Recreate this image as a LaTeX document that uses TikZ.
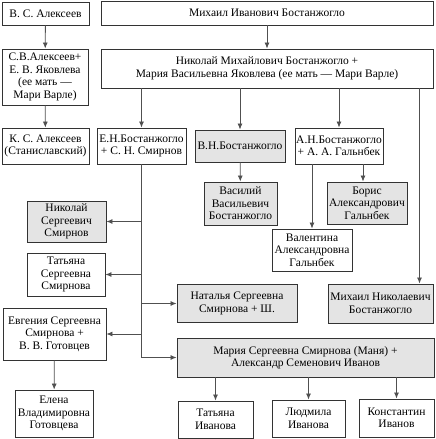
\documentclass[tikz,border=0pt]{standalone}
\usepackage{fontspec}
\setmainfont{Liberation Serif}
\usetikzlibrary{arrows.meta}
\usetikzlibrary{positioning}

\definecolor{boxgrey}{HTML}{E4E4E4}
\definecolor{linegrey}{HTML}{505050}

\tikzset{
  person/.style={draw=black!80, line width=0.9pt, fill=white, align=center,
    inner sep=0.5pt, font=\fontsize{11.5}{12.5}\selectfont},
  grey/.style={person, fill=boxgrey},
  conn/.style={draw=linegrey, line width=0.8pt, -{Latex[length=6pt,width=5pt]}}
}

\begin{document}
\begin{tikzpicture}[x=1pt,y=-1pt]
\useasboundingbox (0,0) rectangle (436,439);

    % Alekseev line
    \node[person, minimum width=87, minimum height=23] (vsa) at (45.5,13.5) {В. С. Алексеев};
    \node[person, minimum width=86, minimum height=56] (sva) at (45,77) {С.В.Алексеев+\\Е. В. Яковлева\\(ее мать ---\\Мари Варле)};
    \node[person, minimum width=87, minimum height=36] (ksa) at (45.5,146) {К. С. Алексеев\\(Станиславский)};

    % Bostanzhoglo line
    \node[person, minimum width=332, minimum height=24] (mib) at (267,13) {Михаил Иванович Бостанжогло};
    \node[person, minimum width=332, minimum height=39] (nmb) at (267,68.5) {Николай Михайлович Бостанжогло +\\Мария Васильевна Яковлева (ее мать --- Мари Варле)};

    % children of Nikolai Mikhailovich
    \node[person, minimum width=89, minimum height=36] (enb) at (141.5,146) {Е.Н.Бостанжогло\\+ С. Н. Смирнов};
    \node[grey, minimum width=90, minimum height=32] (vnb) at (240,146) {В.Н.Бостанжогло};
    \node[person, minimum width=88, minimum height=36] (anb) at (339,146) {А.Н.Бостанжогло\\+ А. А. Гальнбек};
    \node[grey, minimum width=105, minimum height=39] (mnb) at (380.5,303.5) {Михаил Николаевич\\Бостанжогло};

    % grandchildren
    \node[grey, minimum width=73, minimum height=43] (vvb) at (240.5,203.5) {Василий\\Васильевич\\Бостанжогло};
    \node[grey, minimum width=80, minimum height=42] (bag) at (367,203) {Борис\\Александрович\\Гальнбек};
    \node[person, minimum width=80, minimum height=42] (vag) at (312,250) {Валентина\\Александровна\\Гальнбек};

    % Smirnov children
    \node[grey, minimum width=79, minimum height=41] (nss) at (66.5,221.5) {Николай\\Сергеевич\\Смирнов};
    \node[person, minimum width=78, minimum height=43] (tss) at (66,274.5) {Татьяна\\Сергеевна\\Смирнова};
    \node[grey, minimum width=120, minimum height=38] (nsh) at (237,303.5) {Наталья Сергеевна\\Смирнова + Ш.};
    \node[person, minimum width=103, minimum height=52] (ess) at (54.5,334) {Евгения Сергеевна\\Смирнова +\\В. В. Готовцев};
    \node[grey, minimum width=257, minimum height=39] (msi) at (305.5,357.5) {Мария Сергеевна Смирнова (Маня) +\\Александр Семенович Иванов};

    % last row
    \node[person, minimum width=78, minimum height=47] (evg) at (54,413.5) {Елена\\Владимировна\\Готовцева};
    \node[person, minimum width=75, minimum height=37] (tiv) at (215.5,419.5) {Татьяна\\Иванова};
    \node[person, minimum width=73, minimum height=37] (lid) at (308.5,418.5) {Людмила\\Иванова};
    \node[person, minimum width=75, minimum height=38] (kiv) at (396.5,418) {Константин\\Иванов};

    % connectors
    \draw[conn] (vsa) -- (sva);
    \draw[conn] (sva) -- (ksa);
    \draw[conn] (mib) -- (nmb);
    \draw[conn] (nmb.south -| enb) -- (enb.north);
    \draw[conn] (nmb.south -| vnb) -- (vnb.north);
    \draw[conn] (nmb.south -| anb) -- (anb.north);
    \coordinate (mnbtop) at ([xshift=39pt]mnb.north);
    \draw[conn] (nmb.south -| mnbtop) -- (mnbtop);
    \draw[conn] (vnb) -- (vvb);
    \coordinate (bagtop) at ([xshift=-4pt]bag.north);
    \draw[conn] (anb.south -| bagtop) -- (bagtop);
    \draw[conn] (anb.south -| vag) -- (vag.north);

    % Smirnov trunk
    \draw[conn] (enb.south) |- (msi.west);
    \draw[conn] (enb.south |- nss) -- (nss.east);
    \draw[conn] (enb.south |- tss) -- (tss.east);
    \draw[conn] (enb.south |- nsh) -- (nsh.west);
    \draw[conn] (enb.south |- ess) -- (ess.east);

    \draw[conn] (ess) -- (evg);
    \draw[conn] (msi.south -| tiv) -- (tiv.north);
    \draw[conn] (msi.south -| lid) -- (lid.north);
    \draw[conn] (msi.south -| kiv) -- (kiv.north);

\end{tikzpicture}
\end{document}
